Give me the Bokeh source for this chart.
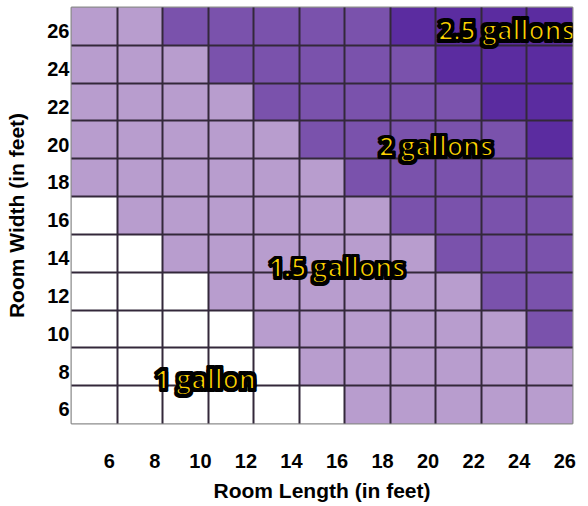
from bokeh.plotting import figure
from bokeh.models import Range1d, FixedTicker, CustomJSTickFormatter, Label, ColumnDataSource
from bokeh.embed import file_html
from bokeh.resources import INLINE

# ---- data ----
lengths = [6, 8, 10, 12, 14, 16, 18, 20, 22, 24, 26]          # Room Length (x)
widths = [26, 24, 22, 20, 18, 16, 14, 12, 10, 8, 6]           # Room Width (y), top to bottom
# paint level per cell: 0 = 1 gallon, 1 = 1.5 gallons, 2 = 2 gallons, 3 = 2.5 gallons
levels = [
    [1, 1, 2, 2, 2, 2, 2, 3, 3, 3, 3],   # 26
    [1, 1, 1, 2, 2, 2, 2, 2, 3, 3, 3],   # 24
    [1, 1, 1, 1, 2, 2, 2, 2, 2, 3, 3],   # 22
    [1, 1, 1, 1, 1, 2, 2, 2, 2, 2, 3],   # 20
    [1, 1, 1, 1, 1, 1, 2, 2, 2, 2, 2],   # 18
    [0, 1, 1, 1, 1, 1, 1, 2, 2, 2, 2],   # 16
    [0, 0, 1, 1, 1, 1, 1, 1, 2, 2, 2],   # 14
    [0, 0, 0, 1, 1, 1, 1, 1, 1, 2, 2],   # 12
    [0, 0, 0, 0, 1, 1, 1, 1, 1, 1, 2],   # 10
    [0, 0, 0, 0, 0, 1, 1, 1, 1, 1, 1],   # 8
    [0, 0, 0, 0, 0, 0, 1, 1, 1, 1, 1],   # 6
]
gallon_labels = ["1 gallon", "1.5 gallons", "2 gallons", "2.5 gallons"]
level_colors = ["#ffffff", "#b89dce", "#7a52ac", "#5b2ca0"]

# label anchor positions (data coords) for each gallon text
label_x = [10.88, 16.66, 21.01, 24.1]
label_y = [7.35, 13.27, 19.67, 25.81]

# ---- build cell table ----
xs, ys, cols = [], [], []
for r, w in enumerate(widths):
    for c, l in enumerate(lengths):
        xs.append(l)
        ys.append(w)
        cols.append(level_colors[levels[r][c]])
src = ColumnDataSource(dict(x=xs, y=ys, color=cols))

p = figure(width=588, height=506,
           x_range=Range1d(5, 27), y_range=Range1d(5, 27),
           output_backend="svg", toolbar_location=None,
           min_border_left=71, min_border_right=16,
           min_border_top=7, min_border_bottom=83)
p.background_fill_color = "white"
p.border_fill_color = "white"
p.outline_line_color = "#8c8c8c"
p.outline_line_width = 2

p.rect(x="x", y="y", width=2, height=2, source=src,
       fill_color="color", line_color=None)

# grid lines at cell boundaries
p.xgrid.ticker = FixedTicker(ticks=[l + 1 for l in lengths[:-1]])
p.ygrid.ticker = FixedTicker(ticks=[w + 1 for w in widths[1:]])
for g in (p.xgrid, p.ygrid):
    g.grid_line_color = "#33283a"
    g.grid_line_width = 2
    g.level = "guide"

# axes
xoff, yoff = 0.66, 0.25
p.xaxis.ticker = FixedTicker(ticks=[l + xoff for l in lengths])
p.xaxis.formatter = CustomJSTickFormatter(code="return String(Math.round(tick - %s));" % xoff)
p.yaxis.ticker = FixedTicker(ticks=[w - yoff for w in widths])
p.yaxis.formatter = CustomJSTickFormatter(code="return String(Math.round(tick + %s));" % yoff)

for ax in (p.xaxis[0], p.yaxis[0]):
    ax.axis_line_color = None
    ax.major_tick_line_color = None
    ax.minor_tick_line_color = None
    ax.major_tick_out = 0
    ax.major_tick_in = 0
    ax.major_label_text_font = "Liberation Sans"
    ax.major_label_text_font_style = "bold"
    ax.major_label_text_font_size = "20px"
    ax.major_label_text_color = "black"
    ax.axis_label_text_font = "Liberation Sans"
    ax.axis_label_text_font_style = "bold"
    ax.axis_label_text_font_size = "21px"
    ax.axis_label_text_color = "black"

p.xaxis.axis_label = "Room Length (in feet)"
p.yaxis.axis_label = "Room Width (in feet)"
p.xaxis.major_label_standoff = 30
p.xaxis.axis_label_standoff = 8
p.yaxis.major_label_standoff = 2
p.yaxis.axis_label_standoff = 16

# yellow labels with a thick black outline (black copies behind, yellow on top)
outline_offsets = [(-1.6, -1.6), (1.6, -1.6), (-1.6, 1.6), (1.6, 1.6)]
for txt, lx, ly in zip(gallon_labels, label_x, label_y):
    common = dict(x=lx, y=ly, text=txt, text_align="center",
                  text_baseline="alphabetic", text_font="Open Sans",
                  text_font_style="bold", text_font_size="26px",
                  text_outline_color="black")
    for dx, dy in outline_offsets:
        p.add_layout(Label(x_offset=dx, y_offset=dy, text_color="black", **common))
    p.add_layout(Label(text_color="#ffd200", **common))

open("out.html", "w").write(file_html(p, INLINE))
